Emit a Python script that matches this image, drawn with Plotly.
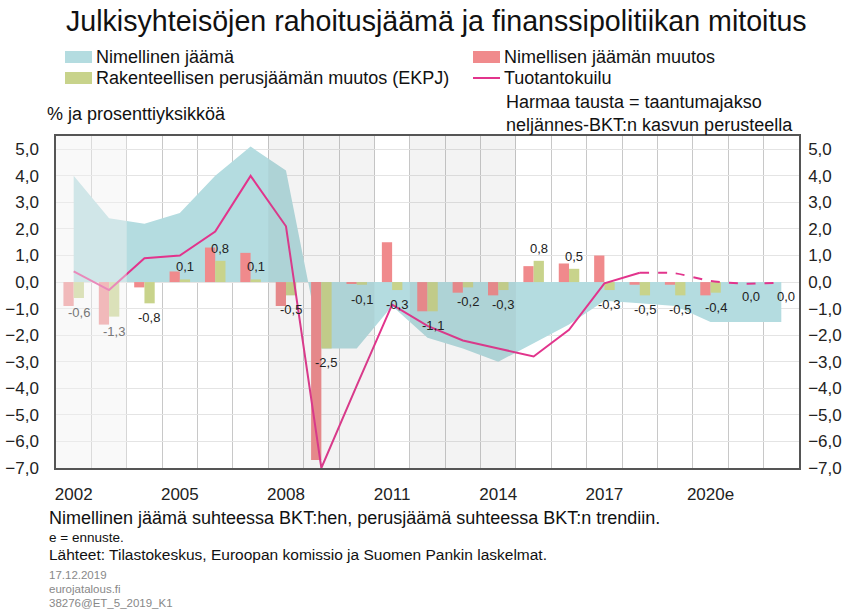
import plotly.graph_objects as go

years = list(range(2002, 2023))
nimellinen_jaama = [4.0, 2.4, 2.2, 2.6, 4.0, 5.1, 4.2, -2.5, -2.5, -0.9, -2.1, -2.5, -3.0,
                    -2.3, -1.6, -0.7, -0.8, -0.9, -1.5, -1.5, -1.5]
jaaman_muutos = [-0.9, -1.6, -0.2, 0.4, 1.3, 1.1, -0.9, -6.7, -0.05, 1.5, -1.1, -0.4, -0.5,
                 0.6, 0.7, 1.0, -0.1, -0.1, -0.5, 0.0, 0.0]
ekpj = [-0.6, -1.3, -0.8, 0.1, 0.8, 0.1, -0.5, -2.5, -0.1, -0.3, -1.1, -0.2, -0.3,
        0.8, 0.5, -0.3, -0.5, -0.5, -0.4, 0.0, 0.0]
tuotantokuilu = [0.4, -0.3, 0.9, 1.0, 1.9, 4.0, 2.1, -7.0, -3.9, -0.85, -1.65, -2.2, -2.5,
                 -2.8, -1.8, -0.05, 0.35, 0.33, 0.04, -0.06, -0.02]
forecast_start = 2018
tick_years = [2002, 2005, 2008, 2011, 2014, 2017, 2020]
tick_text = ["2002", "2005", "2008", "2011", "2014", "2017", "2020e"]
recessions = [(2002, 2003), (2008, 2010), (2012, 2014)]

C_AREA = "#b4dce0"
C_RED = "#f08a8c"
C_GREEN = "#c8d38b"
C_LINE = "#e2348c"
FONT = "Liberation Sans, Arial, sans-serif"

W, H = 846, 611
L, R, T, B = 56, 47, 136, 143
PW, PH = W - L - R, H - T - B

def px(x):
    return (x - L) / PW

def py(y):
    return (H - B - y) / PH

fig = go.Figure()
# area on base axis (drawn beneath)
fig.add_trace(go.Scatter(x=years, y=nimellinen_jaama, fill="tozeroy", mode="none",
                         fillcolor=C_AREA, showlegend=False, name="Nimellinen jäämä"))
# bars and line on overlay axis (drawn above area)
fig.add_trace(go.Bar(x=years, y=jaaman_muutos, yaxis="y2", marker_color=C_RED, marker_line_width=0,
                     name="Nimellisen jäämän muutos", showlegend=False))
fig.add_trace(go.Bar(x=years, y=ekpj, yaxis="y2", marker_color=C_GREEN, marker_line_width=0,
                     name="Rakenteellisen perusjäämän muutos (EKPJ)", showlegend=False))
i0 = years.index(forecast_start)
fig.add_trace(go.Scatter(x=years[:i0 + 1], y=tuotantokuilu[:i0 + 1], yaxis="y2", mode="lines",
                         line=dict(color=C_LINE, width=2), showlegend=False, name="Tuotantokuilu"))
fig.add_trace(go.Scatter(x=years[i0:], y=tuotantokuilu[i0:], yaxis="y2", mode="lines",
                         line=dict(color=C_LINE, width=2, dash="dash", shape="spline", smoothing=0.6),
                         showlegend=False, name="Tuotantokuilu (ennuste)"))

shapes = []
for a, b in recessions:
    fc = "rgba(242,242,242,0.45)" if a == 2002 else "rgba(120,120,120,0.09)"
    shapes.append(dict(type="rect", xref="x", yref="paper", x0=a - 0.5, x1=b + 0.5,
                       y0=0, y1=1, fillcolor=fc, line_width=0, layer="above"))

annotations = []
first_a, first_b = recessions[0]
for yr, v in zip(years, ekpj):
    lab = f"{v:.1f}".replace(".", ",")
    col = "#777" if first_a <= yr <= first_b else "#222"
    if v > 0:
        annotations.append(dict(x=yr, y=v, yref="y2", text=lab, showarrow=False, xshift=5, yshift=3,
                                yanchor="bottom", font=dict(size=13, color=col, family=FONT)))
    else:
        annotations.append(dict(x=yr, y=v, yref="y2", text=lab, showarrow=False, xshift=5, yshift=-5,
                                yanchor="top", font=dict(size=13, color=col, family=FONT)))

# title
annotations.append(dict(xref="paper", yref="paper", x=px(64), y=py(21), xanchor="left", yanchor="middle",
                        text="Julkisyhteisöjen rahoitusjäämä ja finanssipolitiikan mitoitus",
                        showarrow=False, font=dict(size=28.6, color="#111", family=FONT)))
# legend
leg = [("Nimellinen jäämä", C_AREA, 65, 57, "rect"),
       ("Nimellisen jäämän muutos", C_RED, 473, 57, "rect"),
       ("Rakenteellisen perusjäämän muutos (EKPJ)", C_GREEN, 65, 78, "rect"),
       ("Tuotantokuilu", C_LINE, 473, 78, "line")]
for text, col, x0, yc, kind in leg:
    if kind == "rect":
        shapes.append(dict(type="rect", xref="paper", yref="paper", x0=px(x0), x1=px(x0 + 27),
                           y0=py(yc + 6), y1=py(yc - 6), fillcolor=col, line_width=0))
    else:
        shapes.append(dict(type="line", xref="paper", yref="paper", x0=px(x0), x1=px(x0 + 27),
                           y0=py(yc), y1=py(yc), line=dict(color=col, width=2)))
    annotations.append(dict(xref="paper", yref="paper", x=px(x0 + 29), y=py(yc), xanchor="left",
                            yanchor="middle", text=text, showarrow=False,
                            font=dict(size=18, color="#111", family=FONT)))
annotations.append(dict(xref="paper", yref="paper", x=px(45), y=py(114), xanchor="left", yanchor="middle",
                        text="% ja prosenttiyksikköä", showarrow=False,
                        font=dict(size=18, color="#111", family=FONT)))
annotations.append(dict(xref="paper", yref="paper", x=px(504), y=py(113), xanchor="left", yanchor="middle",
                        text="Harmaa tausta = taantumajakso<br>neljännes-BKT:n kasvun perusteella",
                        showarrow=False, align="left",
                        font=dict(size=18, color="#111", family=FONT)))
# footer
annotations.append(dict(xref="paper", yref="paper", x=px(47), y=py(518), xanchor="left", yanchor="middle",
                        text="Nimellinen jäämä suhteessa BKT:hen, perusjäämä suhteessa BKT:n trendiin.",
                        showarrow=False, font=dict(size=18, color="#111", family=FONT)))
annotations.append(dict(xref="paper", yref="paper", x=px(47), y=py(537), xanchor="left", yanchor="middle",
                        text="e = ennuste.", showarrow=False, font=dict(size=13.5, color="#111", family=FONT)))
annotations.append(dict(xref="paper", yref="paper", x=px(47), y=py(554), xanchor="left", yanchor="middle",
                        text="Lähteet: Tilastokeskus, Euroopan komissio ja Suomen Pankin laskelmat.",
                        showarrow=False, font=dict(size=15.5, color="#111", family=FONT)))
for txt, yy in [("17.12.2019", 575), ("eurojatalous.fi", 589), ("38276@ET_5_2019_K1", 603)]:
    annotations.append(dict(xref="paper", yref="paper", x=px(47), y=py(yy), xanchor="left",
                            yanchor="middle", text=txt, showarrow=False,
                            font=dict(size=11.5, color="#888", family=FONT)))

yax = dict(range=[-7, 5.5], dtick=1, tick0=0, tickformat=".1f", zeroline=False, showline=True,
           linecolor="#555", linewidth=1.5, ticks="", fixedrange=True,
           tickfont=dict(size=17, color="#222", family=FONT))

fig.update_layout(
    width=W, height=H, margin=dict(l=L, r=R, t=T, b=B, autoexpand=False),
    paper_bgcolor="white", plot_bgcolor="white",
    separators=", ", barmode="group", bargap=0.42, bargroupgap=0,
    showlegend=False,
    xaxis=dict(range=[2001.5, 2022.5], tickvals=tick_years, ticktext=tick_text, showgrid=False,
               zeroline=False, showline=True, mirror=True, linecolor="#555", linewidth=1.5,
               ticks="", ticklabelstandoff=10, tickfont=dict(size=17, color="#222", family=FONT),
               fixedrange=True,
               minor=dict(tick0=2001.5, dtick=1, showgrid=True, gridcolor="#c8c8c8", gridwidth=1)),
    yaxis=dict(**yax, side="left", mirror=True, ticklabelstandoff=12,
               showgrid=True, gridcolor="#e4e4e4", gridwidth=1),
    yaxis2=dict(**yax, side="right", overlaying="y", ticklabelstandoff=4, showgrid=False),
    shapes=shapes, annotations=annotations,
)
fig.write_html("out.html")
